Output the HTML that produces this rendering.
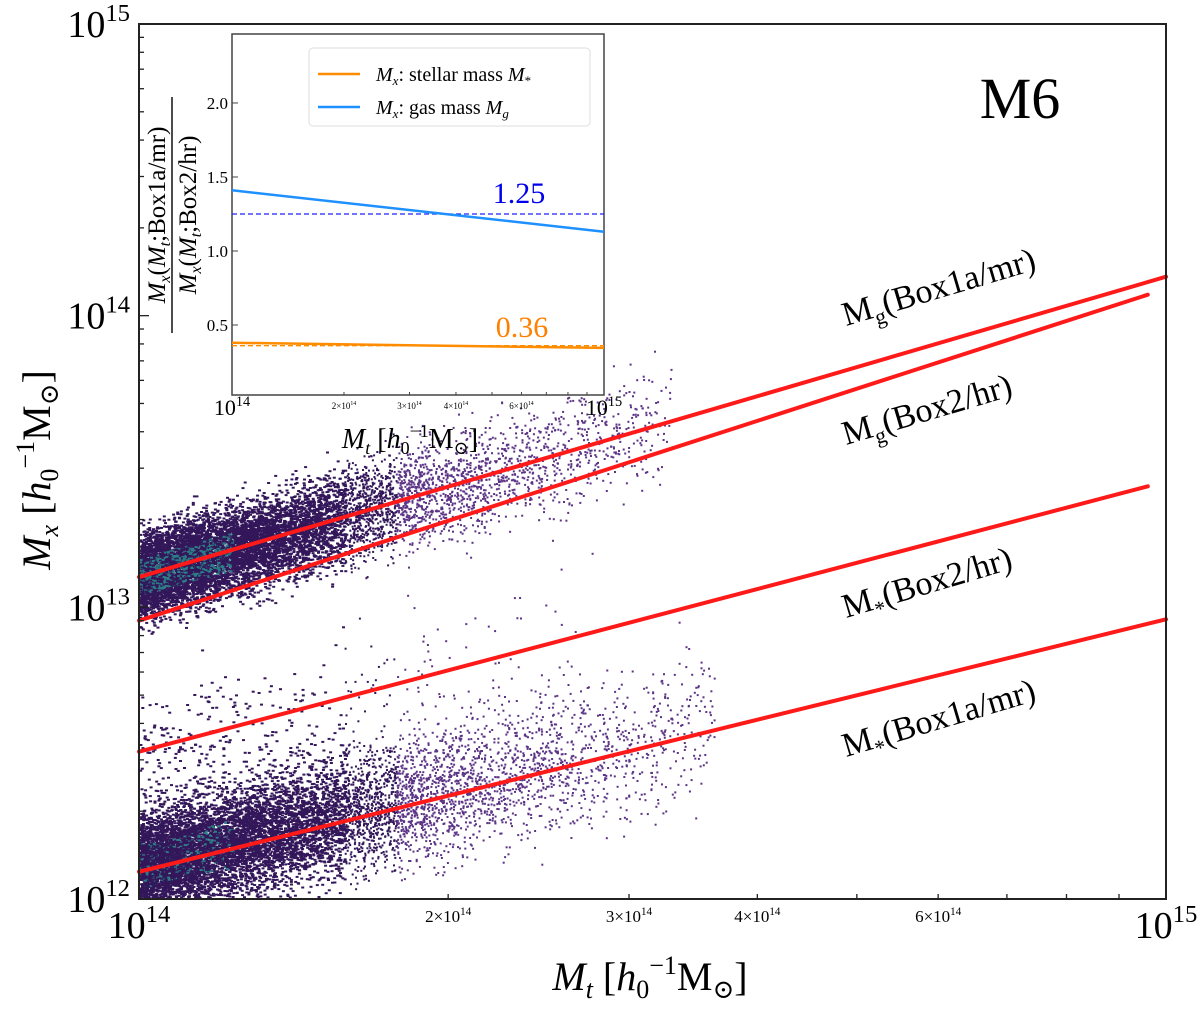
<!DOCTYPE html>
<html><head><meta charset="utf-8"><style>
body{margin:0;background:#fff;}
svg text{font-family:"Liberation Serif","DejaVu Serif",serif;fill:#000;}
</style></head><body>
<svg id="chart" width="1200" height="1009" viewBox="0 0 1200 1009" xmlns="http://www.w3.org/2000/svg">
<g id="cloud"></g>
<g id="lines"></g>
<rect x="139" y="24" width="1027" height="875" fill="none" stroke="#222" stroke-width="2"/>
<g id="ticks"></g>
<text x="1020" y="118" font-size="58" text-anchor="middle">M6</text>
<text transform="translate(846,326) rotate(-16.5)" font-size="34">M<tspan font-size="22" dy="8">g</tspan><tspan dy="-8">(Box1a/mr)</tspan></text>
<text transform="translate(846,445) rotate(-16.5)" font-size="34">M<tspan font-size="22" dy="8">g</tspan><tspan dy="-8">(Box2/hr)</tspan></text>
<text transform="translate(846,618) rotate(-16.5)" font-size="34">M<tspan font-size="22" dy="8">*</tspan><tspan dy="-8">(Box2/hr)</tspan></text>
<text transform="translate(846,757) rotate(-16.5)" font-size="34">M<tspan font-size="22" dy="8">*</tspan><tspan dy="-8">(Box1a/mr)</tspan></text>
<text x="650" y="990" font-size="40" text-anchor="middle"><tspan font-style="italic">M</tspan><tspan font-style="italic" font-size="26" dy="8">t</tspan><tspan dy="-8"> [</tspan><tspan font-style="italic">h</tspan><tspan font-size="26" dy="8">0</tspan><tspan font-size="26" dy="-24">−1</tspan><tspan dy="16">M</tspan><tspan font-size="26" dy="8">⊙</tspan><tspan dy="-8">]</tspan></text>
<text transform="translate(50,470) rotate(-90)" font-size="40" text-anchor="middle"><tspan font-style="italic">M</tspan><tspan font-style="italic" font-size="26" dy="8">x</tspan><tspan dy="-8"> [</tspan><tspan font-style="italic">h</tspan><tspan font-size="26" dy="8">0</tspan><tspan font-size="26" dy="-24">−1</tspan><tspan dy="16">M</tspan><tspan font-size="26" dy="8">⊙</tspan><tspan dy="-8">]</tspan></text>

<g id="inset">
<rect x="232" y="34" width="372" height="361" fill="#fff" stroke="#444" stroke-width="1.5"/>
<g id="insetTicks"></g>
<g id="insetLines"></g>
<g>
<rect x="309" y="48" width="281" height="78" rx="4" fill="#fff" stroke="#ddd"/>
<line x1="318" y1="74" x2="360" y2="74" stroke="#ff8c00" stroke-width="2.5"/>
<text x="376" y="81" font-size="20"><tspan font-style="italic">M</tspan><tspan font-style="italic" font-size="13" dy="4">x</tspan><tspan dy="-4">: stellar mass </tspan><tspan font-style="italic">M</tspan><tspan font-size="13" dy="4">*</tspan></text>
<line x1="318" y1="107" x2="360" y2="107" stroke="#1e90ff" stroke-width="2.5"/>
<text x="376" y="114" font-size="20"><tspan font-style="italic">M</tspan><tspan font-style="italic" font-size="13" dy="4">x</tspan><tspan dy="-4">: gas mass </tspan><tspan font-style="italic">M</tspan><tspan font-style="italic" font-size="13" dy="4">g</tspan></text>
</g>
<text x="519" y="203" font-size="30" style="fill:#0000ee" text-anchor="middle">1.25</text>
<text x="522" y="337" font-size="30" style="fill:#ff8000" text-anchor="middle">0.36</text>
<text x="410" y="448" font-size="28" text-anchor="middle"><tspan font-style="italic">M</tspan><tspan font-style="italic" font-size="18" dy="6">t</tspan><tspan dy="-6"> [</tspan><tspan font-style="italic">h</tspan><tspan font-size="18" dy="6">0</tspan><tspan font-size="18" dy="-17">−1</tspan><tspan dy="11">M</tspan><tspan font-size="18" dy="6">⊙</tspan><tspan dy="-6">]</tspan></text>
<g transform="translate(172,215) rotate(-90)">
<text x="0" y="-7" font-size="25" text-anchor="middle"><tspan font-style="italic">M</tspan><tspan font-style="italic" font-size="16" dy="5">x</tspan><tspan dy="-5">(</tspan><tspan font-style="italic">M</tspan><tspan font-style="italic" font-size="16" dy="5">t</tspan><tspan dy="-5">;Box1a/mr)</tspan></text>
<line x1="-118" y1="0" x2="118" y2="0" stroke="#000" stroke-width="1.4"/>
<text x="0" y="24" font-size="25" text-anchor="middle"><tspan font-style="italic">M</tspan><tspan font-style="italic" font-size="16" dy="5">x</tspan><tspan dy="-5">(</tspan><tspan font-style="italic">M</tspan><tspan font-style="italic" font-size="16" dy="5">t</tspan><tspan dy="-5">;Box2/hr)</tspan></text>
</g>
</g>
</svg>
<script>
// main chart data
const fitNames = ['mg-box1a','mg-box2','ms-box2','ms-box1a'];
const fitX0 = [1e14, 1e14, 1e14, 1e14];
const fitX1 = [1e15, 9.6e14, 9.6e14, 1e15];
const fitY0 = [1.27e13, 9.0e12, 3.2e12, 1.24e12];
const fitY1 = [1.36e14, 1.18e14, 2.6e13, 9.1e12];
const xTickVals = [1e14, 2e14, 3e14, 4e14, 6e14, 1e15];
const xTickLabels = ['10^14','2×10^14','3×10^14','4×10^14','6×10^14','10^15'];
const yTickVals = [1e12, 1e13, 1e14, 1e15];
const yTickLabels = ['10^12','10^13','10^14','10^15'];
// inset data
const insetX = [1e14, 1e15];
const insetGas = [1.41, 1.13];
const insetStellar = [0.38, 0.345];
const gasMean = 1.25;
const stellarMean = 0.36;
const insetYTicks = [0.5, 1.0, 1.5, 2.0];

const NS = 'http://www.w3.org/2000/svg';
const L=139,R=1166,T=24,B=899;
const sx = v => L + (Math.log10(v)-14)*(R-L);
const sy = v => B - (Math.log10(v)-12)/3*(B-T);
const IL=232,IR=604,IT=34,IB=395;
const isx = v => IL + (Math.log10(v)-14)*(IR-IL);
const isy = v => IB - (v-0.027)/(2.466-0.027)*(IB-IT);
function mk(tag, attrs, parent){const e=document.createElementNS(NS,tag);for(const k in attrs)e.setAttribute(k,attrs[k]);parent.appendChild(e);return e;}
function powLabel(parent,x,y,lab,fs,anchor){
  const t=mk('text',{x:x,y:y,'font-size':fs,'text-anchor':anchor},parent);
  const m=lab.split('^');
  t.appendChild(document.createTextNode(m[0]));
  const s=mk('tspan',{'font-size':fs*0.65,dy:-fs*0.42},t); s.textContent=m[1];
  return t;
}
// scatter cloud (decorative texture, seeded mulberry32)
let seed=12345;
function rnd(){seed|=0;seed=seed+0x6D2B79F5|0;let t=Math.imul(seed^seed>>>15,1|seed);t=t+Math.imul(t^t>>>7,61|t)^t;return((t^t>>>14)>>>0)/4294967296;}
const gauss=()=>{let s=0;for(let i=0;i<4;i++)s+=rnd();return (s-2)*1.7;};
const cloud=document.getElementById('cloud');
function cloudFor(i, n, spread, scale, xcap, offset, tealP){
  const b=(Math.log10(fitY1[i])-Math.log10(fitY0[i]))/(Math.log10(fitX1[i])-Math.log10(fitX0[i]));
  for(let k=0;k<n;k++){
    const u=-Math.log(1-rnd()*0.9999)*scale;
    if(u>xcap)continue;
    const g=gauss();
    const ly=Math.log10(fitY0[i])+b*u+g*spread*(1+u)+offset;
    const px=sx(Math.pow(10,14+u)), py=sy(Math.pow(10,ly));
    if(px<L||px>R-3||py<T||py>B-2)continue;
    const dense = u<0.09 && Math.abs(g)<0.9 && rnd()<tealP;
    const r=document.createElementNS(NS,'rect');
    
    
    r.setAttribute('x',px.toFixed(1));r.setAttribute('y',py.toFixed(1));
    r.setAttribute('width',u<0.2?3:2);r.setAttribute('height',2);
    r.setAttribute('fill',dense?'#2b7d86':(u<0.25?'#33175a':'#5b3485'));
    cloud.appendChild(r);
  }
}
cloudFor(0,10000,0.07,0.14,0.52,0.0,0.35);
cloudFor(3,10000,0.085,0.16,0.56,0.02,0.15);
cloudFor(2,500,0.12,0.18,0.45,-0.08,0);

// fit lines
const lg=document.getElementById('lines');
fitNames.forEach((nm,i)=>{
  const l=document.createElementNS(NS,'line');
  
  
  l.setAttribute('x1',sx(fitX0[i]));l.setAttribute('y1',sy(fitY0[i]));
  l.setAttribute('x2',sx(fitX1[i]));l.setAttribute('y2',sy(fitY1[i]));
  l.setAttribute('stroke','#ff1a1a');l.setAttribute('stroke-width',4);l.setAttribute('stroke-linecap','round');
  lg.appendChild(l);
});
// main ticks
const tg=document.getElementById('ticks');
for(let d=12;d<15;d++)for(let m=1;m<10;m++){
  const y=sy(m*Math.pow(10,d)); const len=m===1?10:5;
  mk('line',{x1:L,y1:y,x2:L+len,y2:y,stroke:'#222','stroke-width':1.3},tg);
}
for(let m=1;m<=10;m++){const x=sx(m*1e14);const len=(m===1||m===10)?10:5;mk('line',{x1:x,y1:B,x2:x,y2:B-len,stroke:'#222','stroke-width':1.3},tg);}
yTickVals.forEach((v,i)=>{
  const t=powLabel(tg,130,sy(v)+13,yTickLabels[i],38,'end');
  
  
});
xTickVals.forEach((v,i)=>{
  const major=(v===1e14||v===1e15);
  const t=powLabel(tg,sx(v),major?938:922,xTickLabels[i],major?38:17,'middle');
  
  
});
// inset ticks
const it=document.getElementById('insetTicks');
insetYTicks.forEach(v=>{
  const y=isy(v);
  mk('line',{x1:IL,y1:y,x2:IL+6,y2:y,stroke:'#444'},it);
  const t=mk('text',{x:IL-4,y:y+6,'font-size':17,'text-anchor':'end',fill:'#333'},it);
  
  
  t.textContent=v.toFixed(1);
});
for(let m=1;m<=10;m++){const x=isx(m*1e14);mk('line',{x1:x,y1:IB,x2:x,y2:IB-((m===1||m===10)?6:3),stroke:'#444'},it);}
xTickVals.forEach((v,i)=>{
  const major=(v===1e14||v===1e15);
  const t=powLabel(it,isx(v),major?415:409,xTickLabels[i],major?22:9,'middle');
  
  
});
// inset lines
const il=document.getElementById('insetLines');
function iline(name,ys,col,w,dash){
  const l=document.createElementNS(NS,'line');
  
  
  l.setAttribute('x1',isx(insetX[0]));l.setAttribute('y1',isy(ys[0]));
  l.setAttribute('x2',isx(insetX[1]));l.setAttribute('y2',isy(ys[1]));
  l.setAttribute('stroke',col);l.setAttribute('stroke-width',w);
  if(dash)l.setAttribute('stroke-dasharray',dash);
  il.appendChild(l);
}
iline('gas-mean-dashed',[gasMean,gasMean],'#2020ff',1.3,'5,3');
iline('stellar-mean-dashed',[stellarMean,stellarMean],'#ff8c00',1.3,'5,3');
iline('gas-ratio-line',insetGas,'#1e90ff',2.5);
iline('stellar-ratio-line',insetStellar,'#ff8c00',2.5);
</script>
</body></html>
